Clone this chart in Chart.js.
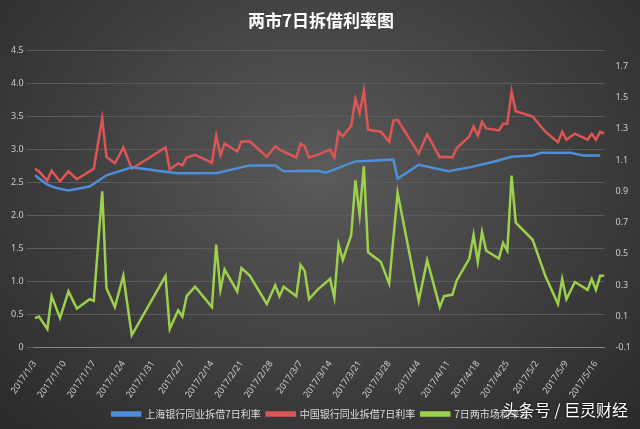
<!DOCTYPE html>
<html>
<head>
<meta charset="utf-8">
<script src="https://cdn.jsdelivr.net/npm/chart.js@4"></script>
<style>
  body { margin: 0; }
  #wrap {
    position: relative; width: 640px; height: 429px;
    background: radial-gradient(ellipse at 50% 40%, #5a5a5a 0%, #3c3c3c 60%, #2a2a2a 100%);
  }
  #mark {
    position: absolute; right: 12px; bottom: 8px; color: #fff;
    font: 16px "Noto Sans CJK SC"; text-shadow: 0 0 3px #000;
  }
</style>
</head>
<body>
<div id="wrap">
  <canvas id="rates" width="640" height="429"></canvas>
  <div id="mark">头条号 / 巨灵财经</div>
</div>
<script>
// days after 2017/1/3
const startDate = new Date(2017, 0, 3);

const blueDays = [0, 3, 5, 8, 13, 17, 23, 30, 34, 43, 51, 57, 59, 67, 69, 76, 85, 86, 91, 98, 103, 109, 113, 118, 120, 127, 130, 134];
const shanghaiRate = [2.61, 2.47, 2.42, 2.38, 2.44, 2.61, 2.73, 2.67, 2.64, 2.64, 2.76, 2.76, 2.67, 2.68, 2.65, 2.82, 2.85, 2.56, 2.77, 2.67, 2.73, 2.82, 2.89, 2.91, 2.95, 2.95, 2.91, 2.91];

const days = [0, 1, 3, 4, 6, 8, 10, 13, 14, 16, 17, 19, 21, 23, 31, 32, 34, 35, 36, 38, 42, 43, 44, 45, 48, 49, 51, 55, 57, 58, 59, 62, 63, 64, 65, 67,
  70, 71, 72, 73, 75, 76, 77, 78, 79, 82, 84, 85, 86, 91, 93, 96, 97, 99, 100, 103, 104, 105, 106, 107, 110, 111, 112, 113, 114, 118, 121, 124, 125, 126, 128, 131, 132, 133, 134, 135];
const chinaRate = [2.71, 2.67, 2.53, 2.68, 2.52, 2.67, 2.55, 2.67, 2.71, 3.47, 2.89, 2.79, 3.03, 2.71, 3.03, 2.70, 2.79, 2.76, 2.88, 2.92, 2.80, 3.21, 2.91, 3.09, 2.97, 3.12, 3.12, 2.89, 3.05, 3.00, 2.97, 2.88, 3.09, 3.05, 2.88, 2.92,
  3.00, 2.88, 3.27, 3.20, 3.36, 3.77, 3.55, 3.89, 3.30, 3.27, 3.12, 3.44, 3.45, 2.94, 3.23, 2.88, 2.89, 2.88, 3.02, 3.20, 3.35, 3.21, 3.42, 3.32, 3.29, 3.39, 3.39, 3.88, 3.58, 3.50, 3.27, 3.11, 3.27, 3.15, 3.24, 3.15, 3.24, 3.15, 3.27, 3.24];
const spread = [0.09, 0.10, 0.02, 0.23, 0.09, 0.26, 0.15, 0.21, 0.20, 0.90, 0.28, 0.16, 0.36, -0.02, 0.36, 0.02, 0.14, 0.10, 0.23, 0.29, 0.16, 0.56, 0.27, 0.40, 0.26, 0.41, 0.36, 0.18, 0.30, 0.23, 0.29, 0.23, 0.43, 0.39, 0.21, 0.27,
  0.34, 0.22, 0.56, 0.46, 0.62, 0.97, 0.75, 1.06, 0.51, 0.45, 0.31, 0.60, 0.89, 0.20, 0.46, 0.16, 0.23, 0.24, 0.33, 0.47, 0.62, 0.45, 0.64, 0.52, 0.47, 0.57, 0.52, 1.00, 0.70, 0.59, 0.36, 0.18, 0.34, 0.21, 0.32, 0.27, 0.34, 0.27, 0.36, 0.36];

const leftTicks = [0, 0.5, 1, 1.5, 2, 2.5, 3, 3.5, 4, 4.5];
const rightTicks = [-0.1, 0.1, 0.3, 0.5, 0.7, 0.9, 1.1, 1.3, 1.5, 1.7];
const weekTicks = [0, 7, 14, 21, 28, 35, 42, 49, 56, 63, 70, 77, 84, 91, 98, 105, 112, 119, 126, 133];

function pts(xs, ys) {
  return xs.map((x, i) => ({ x: x, y: ys[i] }));
}
function dayLabel(d) {
  const dt = new Date(startDate.getTime() + d * 86400000);
  return dt.getFullYear() + '/' + (dt.getMonth() + 1) + '/' + dt.getDate();
}

const tickFont = { family: 'Noto Sans', size: 9 };
const ctx = document.getElementById('rates').getContext('2d');
const rateChart = new Chart(ctx, {
  type: 'line',
  data: {
    datasets: [
      { label: '上海银行同业拆借7日利率', data: pts(blueDays, shanghaiRate), borderColor: '#4d8fd8', backgroundColor: '#4d8fd8', yAxisID: 'y' },
      { label: '中国银行同业拆借7日利率', data: pts(days, chinaRate), borderColor: '#dd5555', backgroundColor: '#dd5555', yAxisID: 'y' },
      { label: '7日两市场利率差', data: pts(days, spread), borderColor: '#9dd04c', backgroundColor: '#9dd04c', yAxisID: 'y2' }
    ]
  },
  options: {
    responsive: false,
    animation: false,
    elements: { point: { radius: 0 }, line: { borderWidth: 2.5, tension: 0 } },
    layout: { padding: { left: 8, right: 6, top: 0, bottom: 0 } },
    plugins: {
      title: { display: true, text: '两市7日拆借利率图', color: '#fff', font: { family: 'Noto Sans CJK SC', size: 17, weight: 'bold' }, padding: { top: 10, bottom: 20 } },
      legend: {
        position: 'bottom',
        labels: { color: '#ddd', boxWidth: 28, boxHeight: 3, font: { family: 'Noto Sans CJK SC', size: 10 }, padding: 6 }
      }
    },
    scales: {
      x: {
        type: 'linear', min: 0, max: 135,
        afterBuildTicks: s => { s.ticks = weekTicks.map(v => ({ value: v })); },
        ticks: { color: '#ccc', font: { family: 'Noto Sans', size: 9 }, maxRotation: 55, minRotation: 55, autoSkip: false, callback: v => dayLabel(v) },
        grid: { display: false },
        border: { color: '#888' }
      },
      y: {
        min: 0, max: 4.5,
        afterBuildTicks: s => { s.ticks = leftTicks.map(v => ({ value: v })); },
        ticks: { color: '#ccc', font: tickFont },
        grid: { color: '#5c5c5c' },
        border: { display: false }
      },
      y2: {
        position: 'right', min: -0.1, max: 1.8,
        afterBuildTicks: s => { s.ticks = rightTicks.map(v => ({ value: v })); },
        ticks: { color: '#ccc', font: tickFont, callback: v => Math.round(v * 10) / 10 },
        grid: { display: false },
        border: { display: false }
      }
    }
  }
});
</script>
</body>
</html>
